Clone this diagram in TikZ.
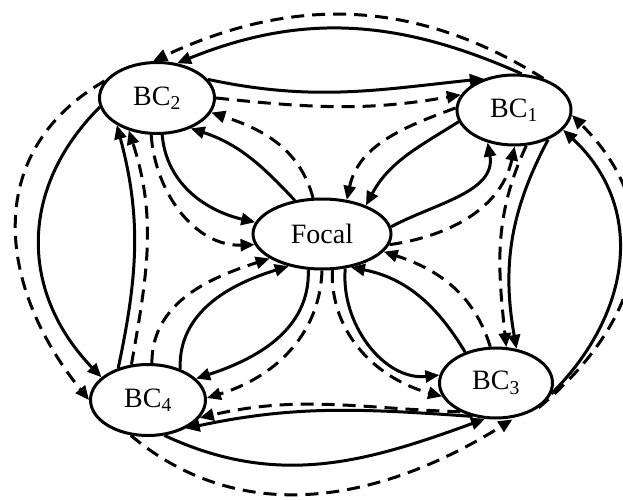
\documentclass[tikz,border=0pt]{standalone}
\usepackage{fontspec}
\setmainfont{Liberation Serif}
\usetikzlibrary{shapes.geometric,arrows.meta}

\tikzset{
  bcnode/.style = {ellipse, draw, line width=3pt, inner sep=0pt,
    minimum width=115pt, minimum height=71pt,
    font=\fontsize{28pt}{32pt}\selectfont},
  tie/.style = {line width=3pt, -{Triangle[length=14pt,width=12pt]}},
  dtie/.style = {tie, dash pattern=on 13pt off 8pt}
}

\begin{document}
\begin{tikzpicture}[x=1pt, y=1pt]
  \useasboundingbox (0,0) rectangle (623,-500);

  \node[bcnode] (bc2) at (157,-98) {BC\textsubscript{2}};
  \node[bcnode, minimum width=114pt, minimum height=70pt] (bc1) at (514,-110) {BC\textsubscript{1}};
  \node[bcnode, minimum width=138pt, minimum height=70pt] (focal) at (322,-234) {Focal};
  \node[bcnode] (bc4) at (148,-400) {BC\textsubscript{4}};
  \node[bcnode, minimum width=113pt, minimum height=70pt] (bc3) at (496,-383) {BC\textsubscript{3}};

  % outer ring, going round against the clock
  \draw[tie] (bc1.78) to[out=156, in=22] (bc2.60);
  \draw[dtie] (bc1.47) to[out=148, in=25] (bc2.96);
  \draw[tie] (bc2.189) to[out=225, in=134, looseness=1.1] (bc4.154);
  \draw[dtie] (bc2.162) to[out=210, in=129, looseness=1.15] (bc4.180);
  \draw[tie] (bc4.-65) to[out=-25, in=200] (bc3.-107);
  \draw[dtie, shorten >=4pt] (bc4.-116) to[out=-40, in=212] (bc3.-60);
  \draw[tie] (bc3.-11) to[out=45, in=-43, looseness=1.1] (bc1.-22);
  \draw[dtie] (bc3.-30) to[out=40, in=-45, looseness=1.2] (bc1.-5);

  % inner ring, going round with the clock
  \draw[tie] (bc2.20) to[out=-12, in=186] (bc1.134);
  \draw[dtie] (bc2.0) to[out=-6, in=190] (bc1.164);
  \draw[tie] (bc1.-41) to[out=-118, in=100] (bc3.59);
  \draw[dtie] (bc1.-71) to[out=-115, in=96] (bc3.74);
  \draw[tie] (bc3.-125) to[out=176, in=12] (bc4.-37);
  \draw[dtie] (bc3.-141) to[out=178, in=13] (bc4.-19);
  \draw[tie] (bc4.133) to[out=78, in=-75] (bc2.214);
  \draw[dtie] (bc4.115) to[out=80, in=-72] (bc2.229);

  % ties into and out of the focal node
  \draw[tie] (bc2.-82) to[out=-85, in=167] (focal.170);
  \draw[dtie] (bc2.-99) to[out=-86, in=182] (focal.189);
  \draw[tie] (focal.129) to[out=133, in=-18] (bc2.-42);
  \draw[dtie] (focal.104) to[out=105, in=-18] (bc2.-15);

  \draw[tie] (bc1.192) to[out=212, in=62] (focal.33);
  \draw[dtie] (bc1.178) to[out=200, in=78] (focal.54);
  \draw[tie] (focal.6) to[out=28, in=-80] (bc1.231);
  \draw[dtie] (focal.-9) to[out=8, in=-102] (bc1.-89);

  \draw[tie] (focal.-56) to[out=-95, in=186] (bc3.172);
  \draw[dtie] (focal.-74) to[out=-92, in=165] (bc3.194);
  \draw[tie] (bc3.135) to[out=121, in=-11] (focal.-49);
  \draw[dtie] (bc3.99) to[out=107, in=-18] (focal.-16);

  \draw[tie] (focal.-111) to[out=-88, in=18] (bc4.24);
  \draw[dtie] (focal.-90) to[out=-92, in=17] (bc4.2);
  \draw[tie] (bc4.44) to[out=92, in=197] (focal.224);
  \draw[dtie] (bc4.84) to[out=90, in=198] (focal.205);
\end{tikzpicture}
\end{document}
